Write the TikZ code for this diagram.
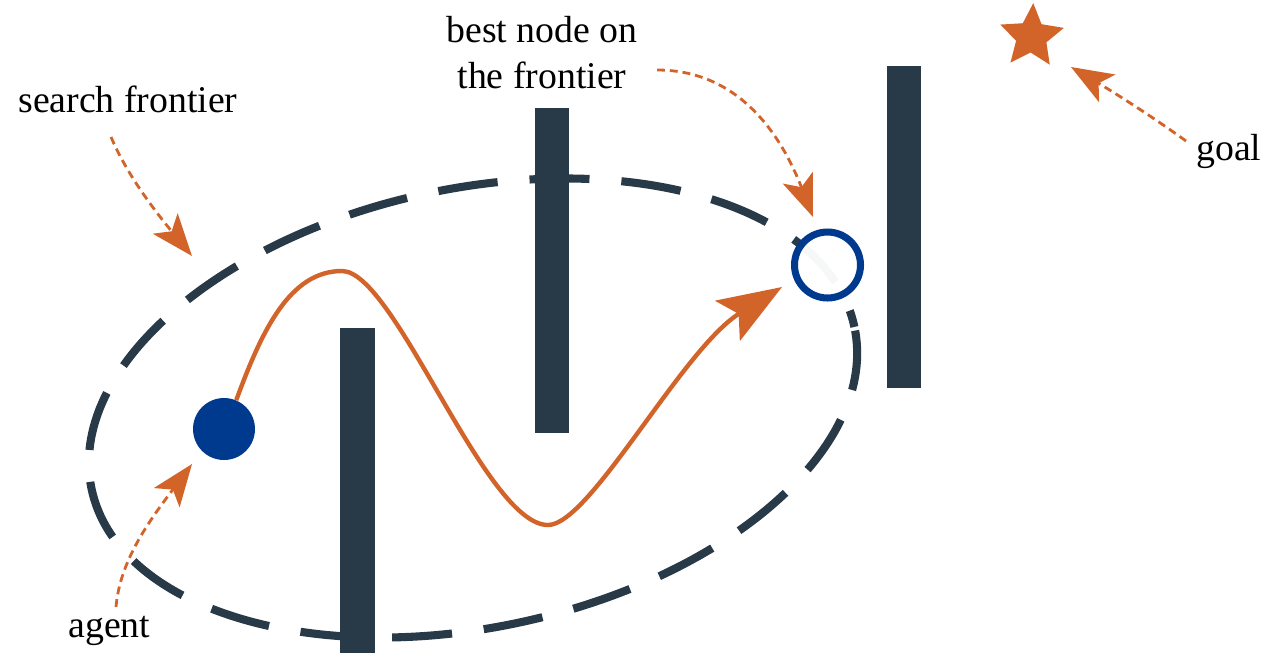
\documentclass[tikz,border=0pt]{standalone}
\usepackage{fontspec}
\setmainfont{Liberation Serif}
\usetikzlibrary{arrows.meta,shapes.geometric}
\definecolor{wallc}{HTML}{283A48}
\definecolor{orng}{HTML}{D2642A}
\definecolor{agblue}{HTML}{003A8F}
\begin{document}
\begin{tikzpicture}[x=0.02cm,y=0.02cm,
  wall/.style={fill=wallc, draw=none},
  frontier/.style={draw=wallc, line width=4.6pt, dash pattern=on 1.2cm off 0.64cm, dash phase=0.86cm},
  route/.style={draw=orng, line width=2.5pt, -{Stealth[length=1.28cm,width=0.94cm,inset=0.26cm]}},
  pointer/.style={draw=orng, line width=1.6pt, dash pattern=on 4.5pt off 2.8pt, -{Stealth[length=0.84cm,width=0.64cm,inset=0.2cm]}},
  lbl/.style={font=\fontsize{21.5}{26.2}\selectfont, inner sep=0pt, text=black}]
\useasboundingbox (0,0) rectangle (1273,-653);
% walls
\fill[wall] (340,-328) rectangle (375,-653);
\fill[wall] (535,-108) rectangle (569,-433);
\fill[wall] (887,-66) rectangle (921,-388);
% search frontier
\coordinate (fc) at (473,-408);
\draw[frontier, rotate around={12:(fc)}] (fc) ellipse [x radius=7.8cm, y radius=4.39cm];
% agent and best node
\node[circle, fill=agblue, minimum size=1.24cm, inner sep=0pt] (agent) at (224,-429) {};
\coordinate (peak) at (342,-271);
\coordinate (valley) at (548,-525);
\coordinate (tipT) at (782,-287);
\draw[route] (agent.67) .. controls (262,-330) and (290,-271) .. (peak)
  .. controls (395,-271) and (485,-525) .. (valley)
  .. controls (590,-525) and (682,-349) .. (tipT);
\node[circle, draw=agblue, line width=4pt, fill=white, fill opacity=0.96, minimum size=1.32cm, inner sep=0pt] (best) at (827.5,-265) {};
% goal
\node[star, star points=5, star point ratio=2.1, fill=orng, minimum size=1.34cm, inner sep=0pt, rotate=-3] (goal) at (1031.5,-36.6) {};
% labels
\node[lbl, anchor=base west] (searchlbl) at (18,-112) {search frontier};
\node[lbl, anchor=base west] (goallbl) at (1196,-160) {goal};
\node[lbl, anchor=base west] (agentlbl) at (68,-637) {agent};
\node[lbl, anchor=base] (bestlblA) at (542,-42) {best node on};
\node[lbl, anchor=base] (bestlblB) at (542,-88) {the frontier};
% pointers
\coordinate (sfA) at (111,-137);
\coordinate (sfB) at (192,-256);
\draw[pointer] (sfA) .. controls (126,-172) and (150,-205) .. (sfB);
\coordinate (bnA) at (657,-70);
\coordinate (bnB) at (813,-217);
\draw[pointer] (bnA) .. controls (745,-70) and (785,-145) .. (bnB);
\coordinate (glA) at (1186,-141);
\coordinate (glB) at (1071,-67);
\draw[pointer] (glA) .. controls (1150,-115) and (1110,-90) .. (glB);
\coordinate (agA) at (116,-607);
\coordinate (agB) at (192,-464);
\draw[pointer] (agA) .. controls (120,-560) and (150,-520) .. (agB);
\end{tikzpicture}
\end{document}
